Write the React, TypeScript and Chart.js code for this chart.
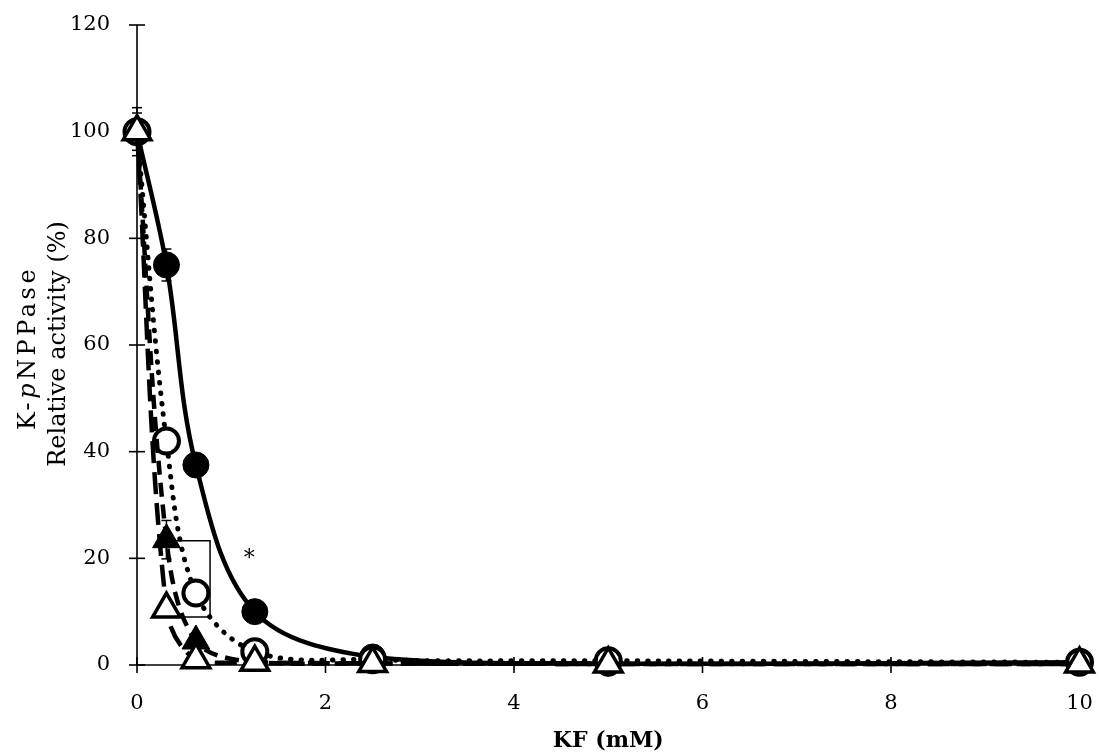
import React, { useEffect, useRef } from 'react';
import { Chart, registerables } from 'chart.js';

Chart.register(...registerables);

// KF concentrations (mM)
const concentrations = [0, 0.3125, 0.625, 1.25, 2.5, 5, 10];

// Relative activity (%) per series
const filledCircle = [100, 75, 37.5, 10, 1.5, 0.3, 0.5];
const filledCircleErr = [4.5, 3, 1.5, 0.8, 0.3, 0.2, 0.2];
const openCircle = [100, 42, 13.5, 2.5, 1, 0.8, 0.5];
const openCircleErr = [3.5, 2, 1.5, 0.5, 0.3, 0.2, 0.2];
const filledTriangle = [100, 23.5, 4.5, 0.5, 0.3, 0.2, 0.2];
const filledTriangleErr = [2, 3.6, 1, 0.3, 0.2, 0.1, 0.1];
const openTriangle = [100, 10.5, 1, 0.5, 0.3, 0.2, 0.2];
const openTriangleErr = [2, 1.5, 0.5, 0.2, 0.1, 0.1, 0.1];

// Axis ranges / ticks
const xMin = 0;
const xMax = 10;
const xStep = 2;
const yMin = 0;
const yMax = 120;
const yStep = 20;

// Significance annotation (data coordinates)
const bracketX = [0.37, 0.775];
const bracketY = [23.3, 9];
const asteriskPos = [1.19, 20.5];
const asteriskText = '*';

const xTitle = 'KF (mM)';
const yTitleLine2 = 'Relative activity (%)';

const FONT = "'DejaVu Serif', serif";

const toPts = (vals: number[]) => vals.map((v, i) => ({ x: concentrations[i], y: v }));

const errorSeries = [
  { values: filledCircle, errs: filledCircleErr },
  { values: openCircle, errs: openCircleErr },
  { values: filledTriangle, errs: filledTriangleErr },
  { values: openTriangle, errs: openTriangleErr },
];

const decor = {
  id: 'decor',
  beforeDatasetsDraw(chart: any) {
    const { ctx, scales } = chart;
    const x = scales.x;
    const y = scales.y;
    const line = (a: number, b: number, c: number, d: number) => {
      ctx.beginPath();
      ctx.moveTo(a, b);
      ctx.lineTo(c, d);
      ctx.stroke();
    };
    ctx.save();
    ctx.strokeStyle = '#000';
    ctx.lineWidth = 1.6;
    const x0 = x.getPixelForValue(xMin);
    const y0 = y.getPixelForValue(yMin);
    line(x0, y.getPixelForValue(yMax), x0, y0);
    line(x0, y0, x.getPixelForValue(xMax), y0);
    y.ticks.forEach((t: any) => {
      const py = y.getPixelForValue(t.value);
      line(x0 - 8, py, x0 + 8, py);
    });
    x.ticks.forEach((t: any) => {
      const px = x.getPixelForValue(t.value);
      line(px, y0 - 8, px, y0 + 8);
    });
    // error bars
    ctx.lineWidth = 1.5;
    errorSeries.forEach((s) => {
      s.values.forEach((v, i) => {
        const px = x.getPixelForValue(concentrations[i]);
        const top = y.getPixelForValue(v + s.errs[i]);
        const bot = y.getPixelForValue(v - s.errs[i]);
        line(px, top, px, bot);
        line(px - 5, top, px + 5, top);
        line(px - 5, bot, px + 5, bot);
      });
    });
    // bracket
    const bx0 = x.getPixelForValue(bracketX[0]);
    const bx1 = x.getPixelForValue(bracketX[1]);
    const by0 = y.getPixelForValue(bracketY[0]);
    const by1 = y.getPixelForValue(bracketY[1]);
    ctx.beginPath();
    ctx.moveTo(bx0, by0);
    ctx.lineTo(bx1, by0);
    ctx.lineTo(bx1, by1);
    ctx.lineTo(bx0, by1);
    ctx.stroke();
    ctx.restore();
  },
  afterDraw(chart: any) {
    const { ctx, scales, chartArea } = chart;
    const x = scales.x;
    const y = scales.y;
    ctx.save();
    ctx.fillStyle = '#000';
    // asterisk
    ctx.font = `22px ${FONT}`;
    ctx.textAlign = 'center';
    ctx.textBaseline = 'middle';
    ctx.fillText(asteriskText, x.getPixelForValue(asteriskPos[0]), y.getPixelForValue(asteriskPos[1]) + 4);
    // x title
    ctx.textBaseline = 'alphabetic';
    ctx.font = `bold 22px ${FONT}`;
    ctx.fillText(xTitle, (chartArea.left + chartArea.right) / 2, 747);
    // y title (rotated)
    ctx.rotate(-Math.PI / 2);
    ctx.font = `24px ${FONT}`;
    ctx.textAlign = 'center';
    ctx.fillText(yTitleLine2, -344, 65);
    const parts = [
      { t: 'K-', f: `24px ${FONT}` },
      { t: 'p', f: `italic 24px ${FONT}` },
      { t: 'NPPase', f: `24px ${FONT}` },
    ];
    (ctx as any).letterSpacing = '3.5px';
    let total = 0;
    parts.forEach((p) => {
      ctx.font = p.f;
      total += ctx.measureText(p.t).width;
    });
    let cx = -348 - total / 2;
    ctx.textAlign = 'left';
    parts.forEach((p) => {
      ctx.font = p.f;
      ctx.fillText(p.t, cx, 35);
      cx += ctx.measureText(p.t).width;
    });
    ctx.restore();
  },
};

const zeroPad = (s: any) => {
  s.paddingLeft = 0;
  s.paddingRight = 0;
  s.paddingTop = 0;
  s.paddingBottom = 0;
};

export default function App() {
  const ref = useRef<HTMLCanvasElement>(null);
  useEffect(() => {
    document.body.style.margin = '0';
    const canvas = ref.current!;
    const chart = new Chart(canvas, {
      type: 'line',
      data: {
        datasets: [
          {
            label: 'open triangle',
            data: toPts(openTriangle),
            borderColor: '#000',
            borderWidth: 4.5,
            borderDash: [22, 9],
            tension: 0.35,
            pointStyle: 'triangle',
            pointRadius: 16,
            pointBackgroundColor: '#fff',
            pointBorderColor: '#000',
            pointBorderWidth: 3.5,
            clip: false,
          },
          {
            label: 'filled triangle',
            data: toPts(filledTriangle),
            borderColor: '#000',
            borderWidth: 4.5,
            borderDash: [14, 8],
            tension: 0.35,
            pointStyle: 'triangle',
            pointRadius: 16,
            pointBackgroundColor: '#000',
            pointBorderColor: '#000',
            pointBorderWidth: 1,
            clip: false,
          },
          {
            label: 'open circle',
            data: toPts(openCircle),
            borderColor: '#000',
            borderWidth: 5,
            borderDash: [0.5, 10],
            borderCapStyle: 'round',
            tension: 0.35,
            pointStyle: 'circle',
            pointRadius: 12.5,
            pointBackgroundColor: '#fff',
            pointBorderColor: '#000',
            pointBorderWidth: 4,
            clip: false,
          },
          {
            label: 'filled circle',
            data: toPts(filledCircle),
            borderColor: '#000',
            borderWidth: 4.5,
            tension: 0.35,
            pointStyle: 'circle',
            pointRadius: 13,
            pointBackgroundColor: '#000',
            pointBorderColor: '#000',
            pointBorderWidth: 1,
            clip: false,
          },
        ],
      },
      options: {
        responsive: false,
        animation: false,
        layout: { padding: { left: 0, right: 19, top: 25, bottom: 0 } },
        plugins: { legend: { display: false }, tooltip: { enabled: false } },
        scales: {
          x: {
            type: 'linear',
            min: xMin,
            max: xMax,
            grid: { display: false, drawTicks: false },
            border: { display: false },
            ticks: {
              stepSize: xStep,
              color: '#000',
              padding: 26,
              maxRotation: 0,
              font: { family: FONT, size: 21 },
            },
            afterFit: (s: any) => {
              s.height = 88;
              zeroPad(s);
            },
          },
          y: {
            type: 'linear',
            min: yMin,
            max: yMax,
            grid: { display: false, drawTicks: false },
            border: { display: false },
            ticks: {
              stepSize: yStep,
              color: '#000',
              padding: 27,
              font: { family: FONT, size: 21 },
            },
            afterFit: (s: any) => {
              s.width = 137;
              zeroPad(s);
            },
          },
        },
      },
      plugins: [decor],
    });
    return () => chart.destroy();
  }, []);
  return (
    <div style={{ width: 1099, height: 753 }}>
      <canvas ref={ref} width={1099} height={753} style={{ display: 'block' }} />
    </div>
  );
}
